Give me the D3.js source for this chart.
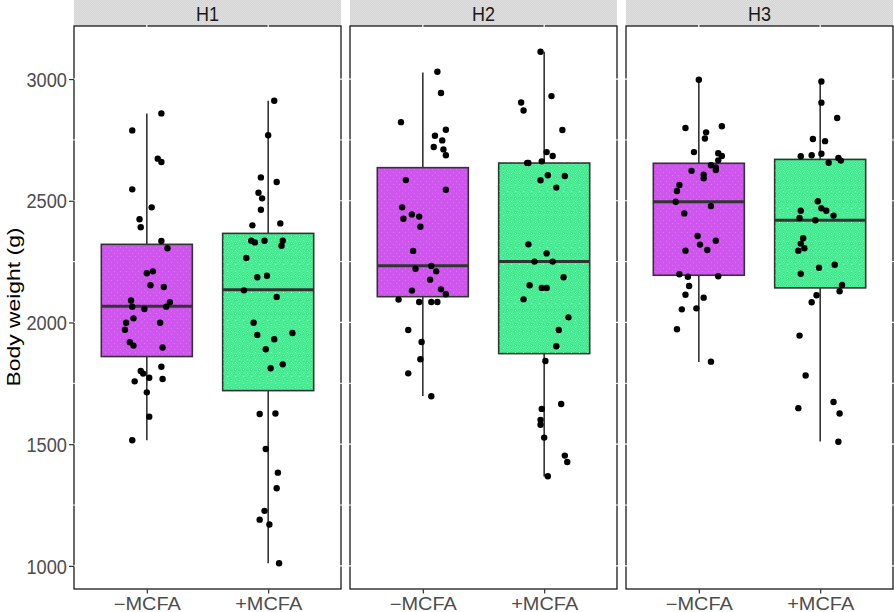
<!DOCTYPE html>
<html><head><meta charset="utf-8">
<script src="https://cdn.jsdelivr.net/npm/d3@7"></script>
<style>body{margin:0;background:#fff}svg{display:block}</style>
</head><body><svg id="c" width="894" height="612"></svg>
<script>
const facets = ["H1","H2","H3"];
const treatments = ["\u2212MCFA","+MCFA"];
const yTicks = [1000,1500,2000,2500,3000];
const yMinor = [1250,1750,2250,2750];
const yLabel = "Body weight (g)";

// box stats: [lower whisker, Q1, median, Q3, upper whisker]
const boxH1 = [[1516,1860,2067,2321,2859],[1011,1720,2134,2366,2911]];
const boxH2 = [[1698,2106,2233,2636,3027],[1367,1872,2250,2655,3112]];
const boxH3 = [[1838,2194,2496,2654,2997],[1511,2142,2420,2670,2992]];

// observations (g) and horizontal jitter (fraction of category step)
const valsH1minus = [2859,2789,2673,2659,2547,2473,2424,2391,2335,2305,2202,2210,2153,2146,2090,2083,2065,2065,2055,2017,1999,1999,1970,1919,1905,1897,1818,1801,1790,1773,1758,1768,1713,1613,1516];
const jitH1minus  = [0.12,-0.12,0.09,0.12,-0.12,0.04,-0.06,-0.05,0.12,0.17,0,0.05,0.03,0.14,-0.13,0.19,-0.12,0.16,-0.02,-0.11,-0.17,0.11,-0.18,-0.14,-0.11,0.13,0.12,-0.05,-0.03,0.02,-0.10,0.13,0,0.02,-0.12];
const valsH1plus  = [2911,2769,2596,2577,2533,2510,2463,2399,2407,2336,2329,2336,2336,2315,2265,2186,2192,2132,2105,1999,1957,1949,1931,1890,1828,1812,1624,1626,1480,1383,1319,1226,1190,1170,1011];
const jitH1plus   = [0.05,0,-0.06,0.07,-0.08,-0.05,-0.06,-0.13,0.10,-0.14,-0.11,-0.03,0.12,0.11,-0.18,-0.09,-0.01,-0.20,0.07,-0.12,0.20,-0.09,0.05,-0.02,0.12,0.02,-0.07,0.06,-0.02,0.08,0.07,-0.03,-0.07,0.01,0.09];
const valsH2minus = [3030,2943,2823,2792,2767,2748,2721,2711,2687,2585,2545,2473,2444,2435,2426,2393,2294,2232,2221,2210,2176,2131,2136,2116,2094,2084,2084,2084,1969,1920,1849,1791,1697];
const jitH2minus  = [0.12,0.15,-0.18,0.19,0.10,0.16,0.09,0.17,0.19,-0.14,0.19,-0.17,-0.09,-0.03,-0.16,-0.02,-0.08,0.07,-0.06,0.11,0.06,-0.09,0.15,0.19,-0.20,-0.03,0.07,0.12,-0.12,-0.01,-0.02,-0.12,0.07];
const valsH2plus  = [3112,2930,2904,2871,2791,2700,2684,2655,2655,2662,2605,2602,2584,2554,2321,2284,2250,2250,2186,2153,2142,2142,2095,2021,1969,1902,1842,1665,1645,1600,1580,1527,1453,1427,1368];
const jitH2plus   = [-0.03,0.06,-0.19,-0.17,0.15,0.02,0.07,-0.14,-0.13,-0.02,0.03,0.17,-0.03,0.10,-0.13,0.02,-0.08,0.07,0.16,-0.12,-0.02,0.02,-0.17,0.20,0.12,0.10,0.01,0.14,-0.02,-0.03,-0.03,0,0.17,0.19,0.03];
const valsH3minus = [2997,2799,2806,2781,2756,2700,2695,2684,2666,2646,2637,2626,2623,2607,2592,2565,2540,2496,2478,2448,2355,2336,2320,2295,2298,2198,2190,2188,2150,2114,2102,2054,2058,1972,1839];
const jitH3minus  = [0,-0.11,0.19,0.06,0.05,-0.04,0.16,0.19,0.16,0.10,0.14,0.14,-0.06,0.04,0.04,-0.16,-0.18,-0.19,0.10,-0.12,-0.01,0.14,0.01,-0.11,0.07,-0.16,0.16,-0.09,-0.08,-0.11,0.04,-0.14,-0.02,-0.18,0.10];
const valsH3plus  = [2990,2903,2840,2754,2745,2683,2687,2693,2676,2665,2656,2498,2469,2459,2459,2439,2429,2420,2346,2324,2305,2295,2237,2225,2200,2154,2128,2112,2083,1946,1782,1673,1648,1626,1510];
const jitH3plus   = [0.01,0.01,0.14,-0.06,0.04,-0.16,-0.07,0.01,0.15,0.17,0.07,-0.02,0.01,-0.16,0.05,0.11,-0.17,-0.04,-0.14,-0.16,-0.13,-0.18,0.12,-0.01,-0.16,0.18,0.16,-0.03,-0.07,-0.17,-0.12,0.11,-0.18,0.16,0.15];

const panelData = [
  {facet:"H1", boxes:boxH1, vals:[valsH1minus, valsH1plus], jit:[jitH1minus, jitH1plus]},
  {facet:"H2", boxes:boxH2, vals:[valsH2minus, valsH2plus], jit:[jitH2minus, jitH2plus]},
  {facet:"H3", boxes:boxH3, vals:[valsH3minus, valsH3plus], jit:[jitH3minus, jitH3plus]}
];

const FONT = "'Liberation Sans', Arial, Helvetica, sans-serif";
const svg = d3.select("#c");
const stripTop = 0, panelTop = 26, panelBottom = 589;

const fx = d3.scaleBand().domain(facets).range([74, 893]).paddingInner(9/276).paddingOuter(0);
const bw = fx.bandwidth();
const y = d3.scaleLinear().domain([905, 3218]).range([panelBottom, panelTop]);
const x = d3.scalePoint().domain(treatments).range([0, bw]).padding(0.6);
const step = x.step();

// patterns
const defs = svg.append("defs");
const pP = defs.append("pattern").attr("id","pPurple").attr("patternUnits","userSpaceOnUse").attr("width",6).attr("height",6);
pP.append("rect").attr("width",6).attr("height",6).attr("fill","#CF56EC");
[[1,4],[4,1]].forEach(d=>pP.append("rect").attr("x",d[0]).attr("y",d[1]).attr("width",1).attr("height",1).attr("fill","#9AAE86"));
const pG = defs.append("pattern").attr("id","pGreen").attr("patternUnits","userSpaceOnUse").attr("width",8).attr("height",7);
pG.append("rect").attr("width",8).attr("height",7).attr("fill","#49EB93");
[[1,5],[5,2]].forEach(d=>pG.append("rect").attr("x",d[0]).attr("y",d[1]).attr("width",1).attr("height",1).attr("fill","#E8FFF0"));
const pS = defs.append("pattern").attr("id","pStrip").attr("patternUnits","userSpaceOnUse").attr("width",2).attr("height",2);
pS.append("rect").attr("width",2).attr("height",2).attr("fill","#D4D4D4");
pS.append("rect").attr("width",1).attr("height",1).attr("fill","#E0E0E0");
pS.append("rect").attr("x",1).attr("y",1).attr("width",1).attr("height",1).attr("fill","#E0E0E0");
const fills = ["url(#pPurple)","url(#pGreen)"];

panelData.forEach((pd, pi) => {
  const g = svg.append("g").attr("transform", `translate(${fx(pd.facet)},0)`);
  // strip
  g.append("rect").attr("x",0).attr("y",stripTop).attr("width",bw).attr("height",panelTop-stripTop).attr("fill","url(#pStrip)");
  g.append("text").attr("x",bw/2).attr("y",20.5).attr("text-anchor","middle")
    .attr("font-family",FONT).attr("font-size",20).attr("fill","#1A1A1A")
    .attr("textLength",23).attr("lengthAdjust","spacingAndGlyphs").text(pd.facet);
  // panel
  g.append("rect").attr("x",0).attr("y",panelTop).attr("width",bw).attr("height",panelBottom-panelTop)
    .attr("fill","#fff").attr("stroke","#1A1A1A").attr("stroke-width",1.3);
  // white grid lines crossing border
  const grid = g.append("g").attr("stroke","#fff");
  yMinor.forEach(v=>grid.append("line").attr("x1",-1.5).attr("x2",bw+1.5).attr("y1",y(v)).attr("y2",y(v)).attr("stroke-width",1));
  yTicks.forEach(v=>grid.append("line").attr("x1",-1.5).attr("x2",bw+1.5).attr("y1",y(v)).attr("y2",y(v)).attr("stroke-width",1.2));
  treatments.forEach(t=>grid.append("line").attr("x1",x(t)).attr("x2",x(t)).attr("y1",panelTop-1.5).attr("y2",panelBottom-1.5).attr("stroke-width",1.2));
  // boxes
  treatments.forEach((t, ti) => {
    const b = pd.boxes[ti];
    const cx = x(t), hw = step*0.75/2;
    g.append("line").attr("x1",cx).attr("x2",cx).attr("y1",y(b[4])).attr("y2",y(b[3])).attr("stroke","#333").attr("stroke-width",1.6);
    g.append("line").attr("x1",cx).attr("x2",cx).attr("y1",y(b[1])).attr("y2",y(b[0])).attr("stroke","#333").attr("stroke-width",1.6);
    g.append("rect").attr("x",cx-hw).attr("y",y(b[3])).attr("width",hw*2).attr("height",y(b[1])-y(b[3]))
      .attr("fill",fills[ti]).attr("stroke","#333").attr("stroke-width",1.6);
    g.append("line").attr("x1",cx-hw).attr("x2",cx+hw).attr("y1",y(b[2])).attr("y2",y(b[2])).attr("stroke","#333").attr("stroke-width",3);
  });
  // points
  treatments.forEach((t, ti) => {
    g.append("g").selectAll("circle").data(pd.vals[ti].map((v,k)=>({v, j:pd.jit[ti][k]})))
      .join("circle").attr("cx",d=>x(t)+d.j*step).attr("cy",d=>y(d.v)).attr("r",3.2).attr("fill","#000");
  });
  // x axis
  const xa = g.append("g").attr("transform",`translate(0,${panelBottom})`)
    .call(d3.axisBottom(x).tickSize(4.5).tickPadding(3).tickSizeOuter(0));
  xa.select(".domain").remove();
  xa.attr("font-family",null).attr("font-size",null);
  xa.selectAll(".tick line").attr("stroke","#333").attr("stroke-width",1.2);
  xa.selectAll("text").attr("font-family",FONT).attr("font-size",17.5).attr("fill","#4D4D4D")
    .attr("y",null).attr("dy",null).attr("transform","translate(0,20.5)")
    .attr("textLength",67).attr("lengthAdjust","spacingAndGlyphs");
  // y axis on first panel
  if (pi === 0) {
    const ya = g.append("g").call(d3.axisLeft(y).tickValues(yTicks).tickFormat(d3.format("d")).tickSize(5).tickPadding(2).tickSizeOuter(0));
    ya.select(".domain").remove();
    ya.attr("font-family",null).attr("font-size",null);
    ya.selectAll(".tick line").attr("stroke","#333").attr("stroke-width",1.2);
    ya.selectAll("text").attr("font-family",FONT).attr("font-size",20).attr("fill","#4D4D4D")
      .attr("dy","0.36em").attr("textLength",40.5).attr("lengthAdjust","spacingAndGlyphs");
  }
});

// y axis title
svg.append("text").attr("transform",`translate(20,307) rotate(-90)`).attr("text-anchor","middle")
  .attr("font-family",FONT).attr("font-size",19).attr("fill","#000")
  .attr("textLength",159).attr("lengthAdjust","spacingAndGlyphs").text(yLabel);
</script></body></html>
